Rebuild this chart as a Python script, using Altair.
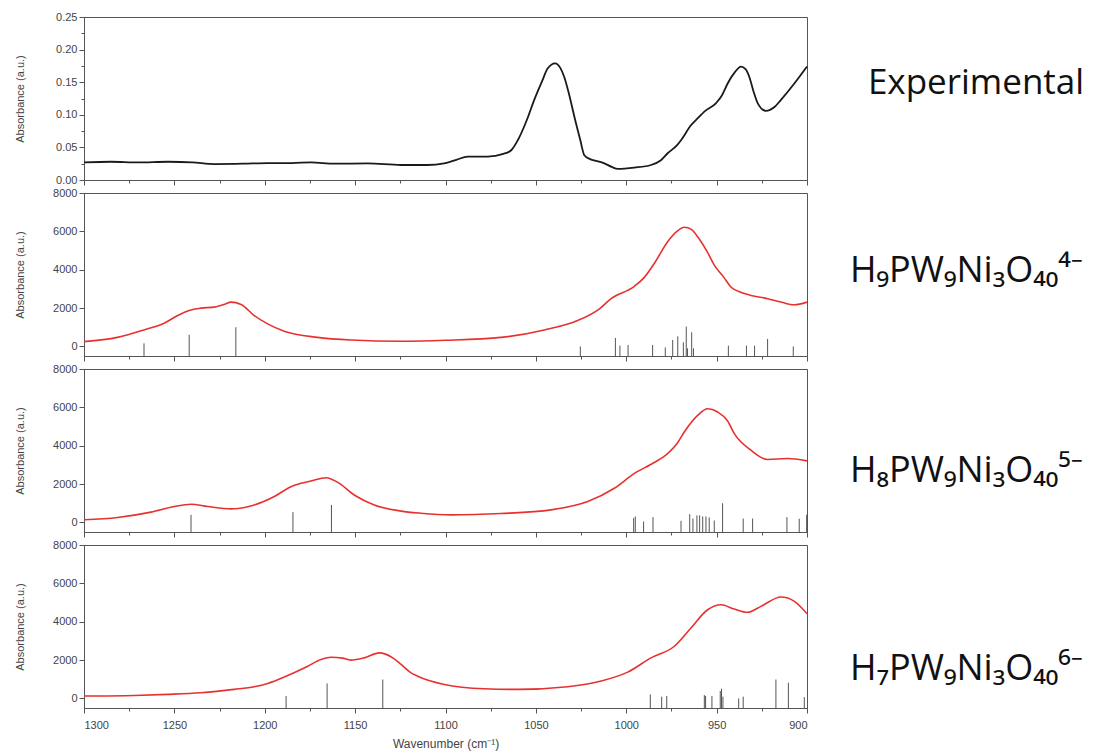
import altair as alt
import pandas as pd

# ---------------- data ----------------
exp_wn = [1300, 1285, 1270, 1253.7, 1240, 1227.9, 1212, 1198.4, 1185, 1174.4, 1161.5, 1143,
          1124.6, 1110, 1100.7, 1094, 1087.7, 1076.7, 1068, 1063.5, 1060, 1055, 1050.9, 1046.5,
          1043.5, 1039.4, 1036.5, 1034.3, 1031.5, 1028.7, 1025.5, 1023.2, 1020, 1017.7, 1012.1,
          1008, 1004.7, 995.5, 986.3, 981, 977.1, 972, 969.7, 964.2, 960, 956.8, 950.3, 947,
          943.9, 940, 936.5, 934, 931.9, 929.5, 927.3, 922.7, 918, 914.4, 907, 900]
exp_abs = [0.027, 0.028, 0.027, 0.028, 0.027, 0.0245, 0.025, 0.026, 0.026, 0.027, 0.025, 0.0255,
           0.023, 0.023, 0.0256, 0.031, 0.036, 0.036, 0.040, 0.046, 0.061, 0.092, 0.123, 0.152,
           0.171, 0.179, 0.172, 0.158, 0.130, 0.097, 0.062, 0.038, 0.032, 0.030, 0.0256,
           0.020, 0.017, 0.019, 0.023, 0.030, 0.041, 0.053, 0.061, 0.084, 0.096, 0.105, 0.118, 0.130,
           0.148, 0.165, 0.174, 0.170, 0.158, 0.135, 0.118, 0.106, 0.112, 0.123, 0.148, 0.174]

h9_wn = [1300, 1281.6, 1266.8, 1255.7, 1248.2, 1241.8, 1235.3, 1227.9, 1222, 1218.7, 1213.1,
         1205.8, 1198.4, 1189.2, 1170.8, 1152.3, 1124.6, 1100, 1069.3, 1045.3, 1026.9, 1015,
         1008.4, 995.5, 990, 984.5, 977.1, 972, 967.9, 964, 960.5, 955, 951.3, 946, 942.1, 936,
         931, 921.8, 914, 907.1, 900]
h9_abs = [250, 470, 860, 1210, 1610, 1875, 1995, 2050, 2200, 2310, 2190,
          1610, 1175, 790, 470, 335, 270, 320, 470, 860, 1350, 1950,
          2490, 3135, 3600, 4325, 5460, 6000, 6215, 6100, 5720, 4900, 4235, 3600, 3100, 2800,
          2660, 2490, 2300, 2170, 2310]
h9_stick_wn = [1266.8, 1241.8, 1216, 1025.4, 1006, 1003.5, 999, 985.4, 978.4, 974.3, 971.5,
               968.4, 966.8, 966.1, 963.8, 962.8, 943.5, 933.5, 929, 921.8, 907.6]
h9_stick_h = [160, 600, 1000, 0, 440, 40, 75, 75, -50, 335, 525,
              210, 1035, -100, 735, -100, 40, 40, 40, 390, 0]

h8_wn = [1300, 1281.4, 1262.9, 1250, 1240.8, 1231.6, 1218.7, 1205.8, 1194.7, 1185.5, 1174.4,
         1166.1, 1159.6, 1150.5, 1139.4, 1124.6, 1113.6, 1097, 1069.3, 1041.6, 1021.3, 1006.6,
         995.5, 984.5, 977.1, 972, 967.9, 960.5, 955, 949.4, 944, 940.2, 931, 921.8, 910.7, 900]
h8_abs = [135, 260, 535, 830, 950, 830, 705, 910, 1350, 1865, 2155,
          2330, 2090, 1430, 910, 590, 480, 395, 465, 655, 1090, 1780,
          2555, 3125, 3590, 4100, 4715, 5580, 5925, 5755, 5300, 4630, 3765, 3280, 3330, 3210]
h8_stick_wn = [1240.8, 1184.4, 1163.1, 995.9, 995, 990.4, 985.2, 969.7, 964.9, 963.1, 960.9,
               959.4, 957.7, 955.9, 954.1, 951.3, 946.7, 935.3, 930.1, 911.1, 904.3, 900.2]
h8_stick_h = [395, 535, 910, 225, 310, 50, 275, 85, 430, 200, 365,
              365, 310, 310, 260, 100, 1000, 200, 200, 275, 190, 400]

h7_wn = [1300, 1272.2, 1253.7, 1235.3, 1216.9, 1205.8, 1198.4, 1187.3, 1176.2, 1168.9, 1163.3,
         1157, 1152.3, 1144.9, 1136.6, 1129.2, 1124.6, 1119.1, 1115.4, 1100.7, 1078.5, 1060,
         1032.4, 1014, 999.2, 986.3, 973.4, 964.2, 955, 947.6, 940.2, 932.8, 925.5, 914.4, 907, 900]
h7_abs = [125, 155, 210, 295, 470, 610, 780, 1195, 1680, 2025, 2150,
          2100, 1995, 2115, 2375, 2115, 1770, 1335, 1160, 730, 505, 470,
          610, 905, 1370, 2115, 2720, 3675, 4625, 4885, 4660, 4490, 4800, 5285, 5060, 4415]
h7_stick_wn = [1188.2, 1165.5, 1134.7, 986.7, 980.4, 977.6, 956.8, 956.1, 952.6, 948, 947.3,
               946.5, 937.8, 935.3, 917.2, 910.3, 901.5]
h7_stick_h = [125, 780, 985, 210, 90, 125, 175, 125, 125, 385, 505,
              90, 0, 90, 985, 815, 70]

panel_labels = ["Experimental",
                "H\u2089PW\u2089Ni\u2083O\u2084\u2080\u2074\u207b",
                "H\u2088PW\u2089Ni\u2083O\u2084\u2080\u2075\u207b",
                "H\u2087PW\u2089Ni\u2083O\u2084\u2080\u2076\u207b"]

x_ticks = list(range(900, 1301, 25))
y_ticks_calc = list(range(0, 8001, 1000))
y_ticks_exp = [0, 0.025, 0.05, 0.075, 0.1, 0.125, 0.15, 0.175, 0.2, 0.225, 0.25]

# ---------------- style ----------------
W, H = 723, 163
AX_COL = "#444444"
FRAME = "#555555"
LBL_FONT = "Liberation Sans"
RIGHT_FONT = "Open Sans, Noto Sans, DejaVu Sans"
TICK = {"condition": {"test": "datum.value % 50 === 0", "value": 5}, "value": 3}


def x_enc(show_labels):
    ax = dict(values=x_ticks, format="d", grid=False, domainColor=FRAME,
              tickColor=FRAME, labelColor=AX_COL, labelFont=LBL_FONT, labelFontSize=11,
              titleFont=LBL_FONT, titleFontSize=12, titleColor=AX_COL, titleFontWeight="normal",
              tickSize=TICK)
    if show_labels:
        ax["labelExpr"] = "datum.value % 50 === 0 ? datum.label : ''"
        ax["title"] = "Wavenumber (cm\u207b\u00b9)"
        ax["labelPadding"] = 6
        ax["titlePadding"] = 8
    else:
        ax["labels"] = False
        ax["title"] = None
        ax["labelPadding"] = 0
    return alt.X("wn:Q", scale=alt.Scale(domain=[900, 1300], reverse=True, nice=False, zero=False),
                 axis=alt.Axis(**ax))


def y_axis(values, fmt, major_test):
    return alt.Axis(values=values, format=fmt, grid=False, domainColor=FRAME, tickColor=FRAME,
                    labelColor=AX_COL, labelFont=LBL_FONT, labelFontSize=11,
                    labelExpr=f"{major_test} ? datum.label : ''",
                    tickSize={"condition": {"test": major_test, "value": 5}, "value": 3},
                    title="Absorbance (a.u.)", titleFont=LBL_FONT, titleFontSize=11,
                    titleColor=AX_COL, titleFontWeight="normal",
                    titleX=-64, titleY=H / 2, titleAlign="center", titleBaseline="middle",
                    titleAngle=270)


def right_text(label, x, y, align, size):
    return alt.Chart(pd.DataFrame({"label": [label]})).mark_text(
        align=align, baseline="alphabetic", font=RIGHT_FONT, fontSize=size, color="#111111"
    ).encode(x=alt.value(x), y=alt.value(y), text="label:N")


# ---------------- panel 1 ----------------
exp_df = pd.DataFrame({"wn": exp_wn, "a": exp_abs})
p1_line = alt.Chart(exp_df).mark_line(color="#1a1a1a", strokeWidth=1.8,
                                      interpolate="monotone").encode(
    x=x_enc(False),
    y=alt.Y("a:Q", scale=alt.Scale(domain=[0, 0.25], nice=False),
            axis=y_axis(y_ticks_exp, ".2f",
                        "abs(datum.value*20 - round(datum.value*20)) < 0.001")))
p1 = alt.layer(p1_line, right_text(panel_labels[0], 892, 77, "center", 35)).properties(
    width=W, height=H)


def calc_panel(wn, ab, swn, sh, label, text_y):
    df = pd.DataFrame({"wn": wn, "a": ab})
    sdf = pd.DataFrame({"wn": swn, "a": sh})
    yscale = alt.Scale(domain=[-500, 8000], nice=False, zero=False)
    line = alt.Chart(df).mark_line(color="#e8312f", strokeWidth=1.6,
                                   interpolate="monotone").encode(
        x=x_enc(label == panel_labels[3]),
        y=alt.Y("a:Q", scale=yscale,
                axis=y_axis(y_ticks_calc, "d", "datum.value % 2000 === 0")))
    sticks = alt.Chart(sdf).mark_rule(color="#555555", strokeWidth=1).encode(
        x="wn:Q", y=alt.Y("a:Q", scale=yscale), y2=alt.datum(-500))
    return alt.layer(sticks, line, right_text(label, 766, text_y, "left", 36)).properties(
        width=W, height=H)


p2 = calc_panel(h9_wn, h9_abs, h9_stick_wn, h9_stick_h, panel_labels[1], 89)
p3 = calc_panel(h8_wn, h8_abs, h8_stick_wn, h8_stick_h, panel_labels[2], 113)
p4 = calc_panel(h7_wn, h7_abs, h7_stick_wn, h7_stick_h, panel_labels[3], 135)

chart = alt.vconcat(p1, p2, p3, p4, spacing=0).properties(
    padding={"left": 13, "top": 10, "right": 5, "bottom": 5},
    background="white",
).configure_view(stroke=FRAME, strokeWidth=1)

chart.save("out.html", embed_options={"renderer": "svg", "actions": False})
